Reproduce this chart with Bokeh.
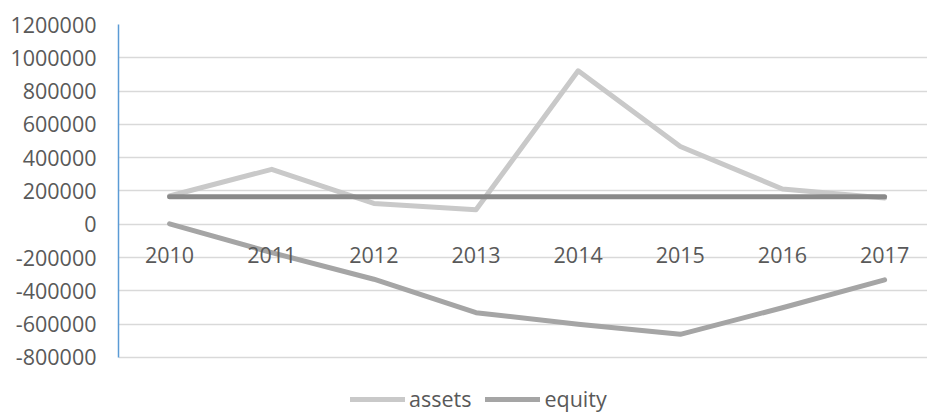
from bokeh.plotting import figure
from bokeh.models import Range1d, FixedTicker, NumeralTickFormatter, Legend, LegendItem, ColumnDataSource
from bokeh.core.properties import value
from bokeh.embed import file_html
from bokeh.resources import INLINE

years = ["2010", "2011", "2012", "2013", "2014", "2015", "2016", "2017"]
assets = [170000, 330000, 125000, 88000, 922000, 467000, 212000, 158000]
equity = [3000, -170000, -330000, -531000, -600000, -661000, -501000, -334000]
flat = [165000, 165000, 165000, 165000, 165000, 165000, 165000, 165000]
y_ticks = [-800000, -600000, -400000, -200000, 0, 200000, 400000, 600000, 800000, 1000000, 1200000]

FONT = "Open Sans"
TXT = "#595959"
FS = "21.5px"

xs = list(range(len(years)))
src = ColumnDataSource(dict(x=xs, year=years, assets=assets, equity=equity, flat=flat,
                            zero=[0] * len(years)))

# frame extends below the last gridline to leave room for the legend
p = figure(width=927, height=416, output_backend="svg", toolbar_location=None,
           x_range=Range1d(-0.5, 7.42), y_range=Range1d(-1154400, 1200000),
           min_border_left=118, min_border_right=0, min_border_top=24, min_border_bottom=0,
           x_axis_type=None)
p.outline_line_color = None
p.background_fill_color = "white"
p.border_fill_color = "white"

p.xgrid.visible = False
p.ygrid.grid_line_color = "#d9d9d9"
p.ygrid.grid_line_width = 1.5
p.ygrid.ticker = FixedTicker(ticks=y_ticks)

ax = p.yaxis[0]
ax.ticker = FixedTicker(ticks=y_ticks)
ax.bounds = (y_ticks[0], y_ticks[-1])
ax.formatter = NumeralTickFormatter(format="0")
ax.axis_line_color = "#5b9bd5"
ax.axis_line_width = 1.5
ax.major_tick_line_color = None
ax.minor_tick_line_color = None
ax.major_label_standoff = 16
ax.major_label_text_font = FONT
ax.major_label_text_font_size = FS
ax.major_label_text_color = TXT

r_assets = p.line("x", "assets", source=src, line_color="#c9c9c9", line_width=5,
                  line_cap="round", line_join="round")
r_equity = p.line("x", "equity", source=src, line_color="#a5a5a5", line_width=5,
                  line_cap="round", line_join="round")
p.line("x", "flat", source=src, line_color="#8a8a8a", line_width=5,
       line_cap="round", line_join="round")

p.text("x", "zero", text="year", source=src, text_font=value(FONT), text_font_size=FS,
       text_color=TXT, text_align="center", text_baseline="middle", y_offset=31)

legend = Legend(items=[LegendItem(label="assets", renderers=[r_assets]),
                       LegendItem(label="equity", renderers=[r_equity])],
                location=(232, 3), orientation="horizontal",
                glyph_width=55, glyph_height=20, label_standoff=4, spacing=14,
                padding=0, margin=0, border_line_color=None, background_fill_alpha=0,
                label_text_font=FONT, label_text_font_size=FS, label_text_color=TXT)
p.add_layout(legend, "center")

open("out.html", "w").write(file_html(p, INLINE))
